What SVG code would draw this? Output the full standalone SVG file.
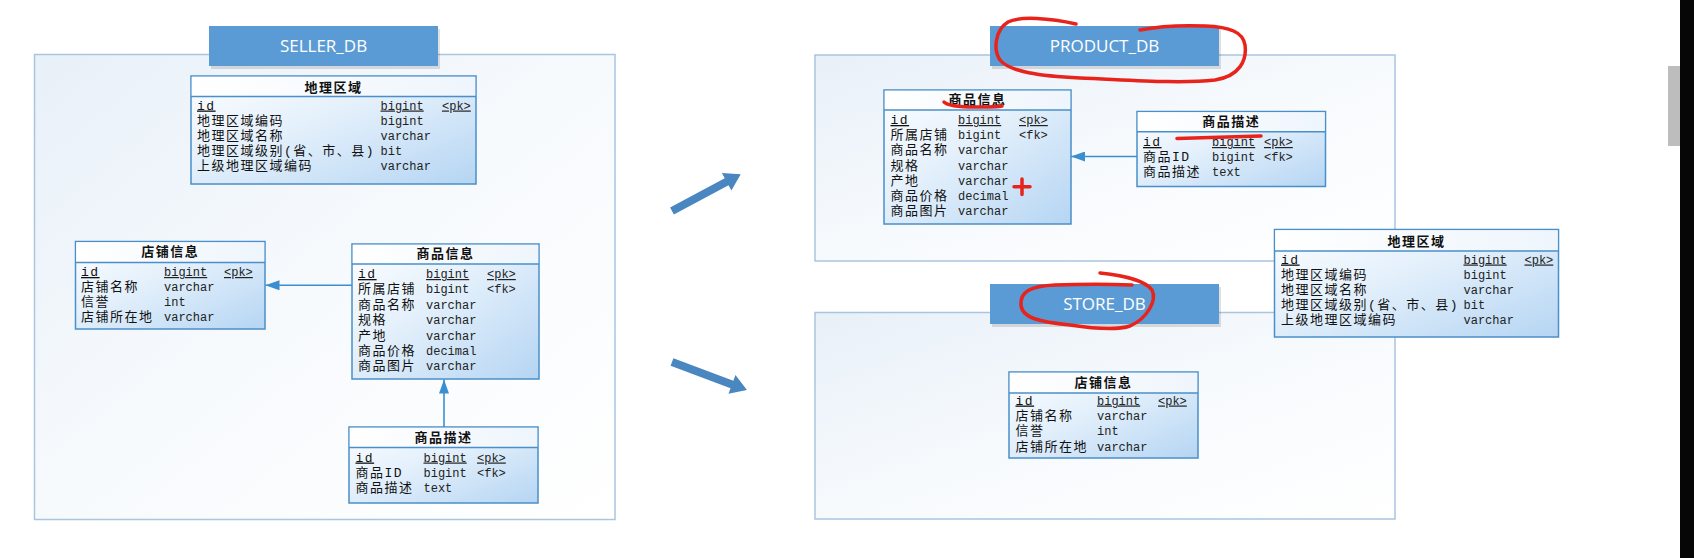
<svg xmlns="http://www.w3.org/2000/svg" width="1694" height="558" viewBox="0 0 1694 558">
<style>
.frame{fill:url(#fg);stroke:#a9c5df;stroke-width:1.5}
.lbl{fill:#5b9bd5}
.lsh{fill:#000;opacity:0.12}
.lbltxt{font-family:"Open Sans","Noto Sans",sans-serif;font-size:17px;fill:#ffffff;text-anchor:middle}
.tb{fill:url(#tg);stroke:#4a8fc9;stroke-width:1.5}
.th{fill:url(#hg)}
.sep{stroke:#4a8fc9;stroke-width:1.5}
.ht{font-family:"Noto Sans CJK SC",sans-serif;font-size:13px;font-weight:bold;letter-spacing:1.5px;text-anchor:middle;fill:#111}
.n{font-family:"Liberation Mono","Noto Sans CJK SC",monospace;font-size:13px;letter-spacing:1.5px;fill:#111}
.t{font-family:"Liberation Mono",monospace;font-size:12px;fill:#222}
.u{text-decoration:underline}
.con{stroke:#3b8fd0;stroke-width:1.6;fill:none;marker-end:url(#ah)}
.big{fill:#4a86c0}
.red{stroke:#e8231b;stroke-width:3.5;fill:none;stroke-linecap:round;stroke-linejoin:round}
</style>
<defs>
<linearGradient id="fg" x1="0" y1="0" x2="1" y2="1">
<stop offset="0" stop-color="#e8f0f8"/>
<stop offset="0.5" stop-color="#f7fafd"/>
<stop offset="1" stop-color="#ffffff"/>
</linearGradient>
<linearGradient id="tg" x1="0" y1="0" x2="1" y2="1">
<stop offset="0" stop-color="#fdfeff"/>
<stop offset="0.45" stop-color="#e2effb"/>
<stop offset="1" stop-color="#b5d5f3"/>
</linearGradient>
<linearGradient id="hg" x1="0" y1="0" x2="1" y2="0">
<stop offset="0" stop-color="#ffffff"/>
<stop offset="1" stop-color="#eef5fc"/>
</linearGradient>
<marker id="ah" markerWidth="14" markerHeight="10" refX="14" refY="5" orient="auto" markerUnits="userSpaceOnUse">
<path d="M0,0 L14,5 L0,10 z" fill="#3b8fd0"/>
</marker>
</defs>
<rect x="0" y="0" width="1694" height="558" fill="#ffffff"/>

<!-- frames -->
<g id="seller_db">
<rect class="frame" x="34.5" y="54.5" width="580.5" height="465"/>
<rect class="lsh" x="211" y="29" width="229" height="40"/>
<rect class="lbl" x="209" y="26" width="229" height="40"/>
<text class="lbltxt" x="323.5" y="52">SELLER_DB</text>
</g>
<g id="product_db">
<rect class="frame" x="815" y="55" width="580" height="206"/>
<rect class="lsh" x="992" y="29" width="229" height="40"/>
<rect class="lbl" x="990" y="26" width="229" height="40"/>
<text class="lbltxt" x="1104.5" y="52">PRODUCT_DB</text>
</g>
<g id="store_db">
<rect class="frame" x="815" y="312.5" width="580" height="206.5"/>
<rect class="lsh" x="992" y="287" width="229" height="40"/>
<rect class="lbl" x="990" y="284" width="229" height="40"/>
<text class="lbltxt" x="1104.5" y="310">STORE_DB</text>
</g>

<!-- seller tables -->
<g id="seller_region" transform="translate(191,76)">
<rect class="tb" x="0" y="0" width="285" height="108"/>
<rect class="th" x="0.75" y="0.75" width="283.5" height="19.75"/>
<line class="sep" x1="0" y1="20.5" x2="285" y2="20.5"/>
<text class="ht" x="142.5" y="16">地理区域</text>
<text class="n u" x="6" y="33.5">id</text><text class="t u" x="189.5" y="33.5">bigint</text><text class="t u" x="251" y="33.5">&lt;pk&gt;</text>
<text class="n" x="6" y="48.7">地理区域编码</text><text class="t" x="189.5" y="48.7">bigint</text>
<text class="n" x="6" y="63.9">地理区域名称</text><text class="t" x="189.5" y="63.9">varchar</text>
<text class="n" x="6" y="79.1">地理区域级别(省、市、县)</text><text class="t" x="189.5" y="79.1">bit</text>
<text class="n" x="6" y="94.3">上级地理区域编码</text><text class="t" x="189.5" y="94.3">varchar</text>
</g>

<g id="seller_shop" transform="translate(75.5,241.5)">
<rect class="tb" x="0" y="0" width="189.5" height="87.5"/>
<rect class="th" x="0.75" y="0.75" width="188" height="20.25"/>
<line class="sep" x1="0" y1="21" x2="189.5" y2="21"/>
<text class="ht" x="94.75" y="14.5">店铺信息</text>
<text class="n u" x="5.5" y="34.5">id</text><text class="t u" x="88.5" y="34.5">bigint</text><text class="t u" x="148.5" y="34.5">&lt;pk&gt;</text>
<text class="n" x="5.5" y="49.5">店铺名称</text><text class="t" x="88.5" y="49.5">varchar</text>
<text class="n" x="5.5" y="64.5">信誉</text><text class="t" x="88.5" y="64.5">int</text>
<text class="n" x="5.5" y="79.5">店铺所在地</text><text class="t" x="88.5" y="79.5">varchar</text>
</g>

<g id="seller_goods" transform="translate(352,244)">
<rect class="tb" x="0" y="0" width="187" height="135"/>
<rect class="th" x="0.75" y="0.75" width="185.5" height="19.25"/>
<line class="sep" x1="0" y1="20" x2="187" y2="20"/>
<text class="ht" x="93.5" y="14">商品信息</text>
<text class="n u" x="6" y="34">id</text><text class="t u" x="74" y="34">bigint</text><text class="t u" x="135" y="34">&lt;pk&gt;</text>
<text class="n" x="6" y="49.4">所属店铺</text><text class="t" x="74" y="49.4">bigint</text><text class="t" x="135" y="49.4">&lt;fk&gt;</text>
<text class="n" x="6" y="64.8">商品名称</text><text class="t" x="74" y="64.8">varchar</text>
<text class="n" x="6" y="80.2">规格</text><text class="t" x="74" y="80.2">varchar</text>
<text class="n" x="6" y="95.6">产地</text><text class="t" x="74" y="95.6">varchar</text>
<text class="n" x="6" y="111">商品价格</text><text class="t" x="74" y="111">decimal</text>
<text class="n" x="6" y="126.4">商品图片</text><text class="t" x="74" y="126.4">varchar</text>
</g>

<g id="seller_desc" transform="translate(349,427)">
<rect class="tb" x="0" y="0" width="189" height="76"/>
<rect class="th" x="0.75" y="0.75" width="187.5" height="19.75"/>
<line class="sep" x1="0" y1="20.5" x2="189" y2="20.5"/>
<text class="ht" x="94.5" y="15">商品描述</text>
<text class="n u" x="6.5" y="34.5">id</text><text class="t u" x="74.5" y="34.5">bigint</text><text class="t u" x="128" y="34.5">&lt;pk&gt;</text>
<text class="n" x="6.5" y="49.5">商品ID</text><text class="t" x="74.5" y="49.5">bigint</text><text class="t" x="128" y="49.5">&lt;fk&gt;</text>
<text class="n" x="6.5" y="64.5">商品描述</text><text class="t" x="74.5" y="64.5">text</text>
</g>

<!-- product tables -->
<g id="product_goods" transform="translate(884,90)">
<rect class="tb" x="0" y="0" width="187" height="134"/>
<rect class="th" x="0.75" y="0.75" width="185.5" height="19.25"/>
<line class="sep" x1="0" y1="20" x2="187" y2="20"/>
<text class="ht" x="93.5" y="14">商品信息</text>
<text class="n u" x="6.5" y="34">id</text><text class="t u" x="74" y="34">bigint</text><text class="t u" x="135" y="34">&lt;pk&gt;</text>
<text class="n" x="6.5" y="49.2">所属店铺</text><text class="t" x="74" y="49.2">bigint</text><text class="t" x="135" y="49.2">&lt;fk&gt;</text>
<text class="n" x="6.5" y="64.4">商品名称</text><text class="t" x="74" y="64.4">varchar</text>
<text class="n" x="6.5" y="79.6">规格</text><text class="t" x="74" y="79.6">varchar</text>
<text class="n" x="6.5" y="94.8">产地</text><text class="t" x="74" y="94.8">varchar</text>
<text class="n" x="6.5" y="110">商品价格</text><text class="t" x="74" y="110">decimal</text>
<text class="n" x="6.5" y="125.2">商品图片</text><text class="t" x="74" y="125.2">varchar</text>
</g>

<g id="product_desc" transform="translate(1137,111.5)">
<rect class="tb" x="0" y="0" width="188.5" height="75"/>
<rect class="th" x="0.75" y="0.75" width="187" height="19.5"/>
<line class="sep" x1="0" y1="20.25" x2="188.5" y2="20.25"/>
<text class="ht" x="94.25" y="14.5">商品描述</text>
<text class="n u" x="6" y="34.5">id</text><text class="t u" x="75" y="34.5">bigint</text><text class="t u" x="127" y="34.5">&lt;pk&gt;</text>
<text class="n" x="6" y="49.5">商品ID</text><text class="t" x="75" y="49.5">bigint</text><text class="t" x="127" y="49.5">&lt;fk&gt;</text>
<text class="n" x="6" y="64.5">商品描述</text><text class="t" x="75" y="64.5">text</text>
</g>

<!-- shared region table -->
<g id="right_region" transform="translate(1274.5,229.5)">
<rect class="tb" x="0" y="0" width="284" height="107.5"/>
<rect class="th" x="0.75" y="0.75" width="282.5" height="20.5"/>
<line class="sep" x1="0" y1="21.5" x2="284" y2="21.5"/>
<text class="ht" x="142" y="16">地理区域</text>
<text class="n u" x="6.5" y="34">id</text><text class="t u" x="189" y="34">bigint</text><text class="t u" x="250" y="34">&lt;pk&gt;</text>
<text class="n" x="6.5" y="49">地理区域编码</text><text class="t" x="189" y="49">bigint</text>
<text class="n" x="6.5" y="64">地理区域名称</text><text class="t" x="189" y="64">varchar</text>
<text class="n" x="6.5" y="79">地理区域级别(省、市、县)</text><text class="t" x="189" y="79">bit</text>
<text class="n" x="6.5" y="94">上级地理区域编码</text><text class="t" x="189" y="94">varchar</text>
</g>

<!-- store table -->
<g id="store_shop" transform="translate(1009,372)">
<rect class="tb" x="0" y="0" width="189" height="86"/>
<rect class="th" x="0.75" y="0.75" width="187.5" height="20.25"/>
<line class="sep" x1="0" y1="21" x2="189" y2="21"/>
<text class="ht" x="94.5" y="14.5">店铺信息</text>
<text class="n u" x="6.5" y="32.5">id</text><text class="t u" x="88" y="32.5">bigint</text><text class="t u" x="149" y="32.5">&lt;pk&gt;</text>
<text class="n" x="6.5" y="48">店铺名称</text><text class="t" x="88" y="48">varchar</text>
<text class="n" x="6.5" y="63.3">信誉</text><text class="t" x="88" y="63.3">int</text>
<text class="n" x="6.5" y="78.6">店铺所在地</text><text class="t" x="88" y="78.6">varchar</text>
</g>

<!-- connectors -->
<g id="connectors">
<path class="con" d="M352,285.3 L265.5,285.3"/>
<path class="con" d="M444,427 L444,379.5"/>
<path class="con" d="M1137,156.5 L1071,156.5"/>
<polygon class="big" transform="translate(672,211) rotate(-28.2)" points="0,-4 62,-4 62,-10 78,0 62,10 62,4 0,4"/>
<polygon class="big" transform="translate(672,362) rotate(20.5)" points="0,-4 64,-4 64,-10 80,0 64,10 64,4 0,4"/>
</g>

<!-- red annotations -->
<g id="annotations">
<path class="red" d="M1076,24 C1050,18 1020,16 1008,22 C995,30 993,50 1000,60 C1010,72 1040,76 1080,78 C1130,80 1180,84 1215,80 C1240,76 1247,60 1245,45 C1243,32 1230,27 1205,26 C1180,25 1160,26 1140,30"/>
<path class="red" d="M944,102 C948,106 960,107 975,107 C990,107 998,107 1002,106" stroke-width="3"/>
<path class="red" d="M1014,186.7 L1030,186.7 M1022,179 L1022,194.5" stroke-width="2.5" stroke-linecap="butt"/>
<path class="red" d="M1177,138.5 L1261,136" stroke-width="3"/>
<path class="red" d="M1100,273 C1120,275 1145,280 1152,290 C1157,300 1148,318 1130,326 C1115,331 1090,328 1070,325 C1040,322 1022,318 1021,305 C1020,292 1030,286 1055,285 C1080,284 1110,284 1132,285"/>
</g>

<!-- screen edge -->
<rect x="1668" y="66" width="12" height="80" fill="#bdbdbd"/>
<rect x="1680" y="0" width="14" height="558" fill="#060606"/>
</svg>
